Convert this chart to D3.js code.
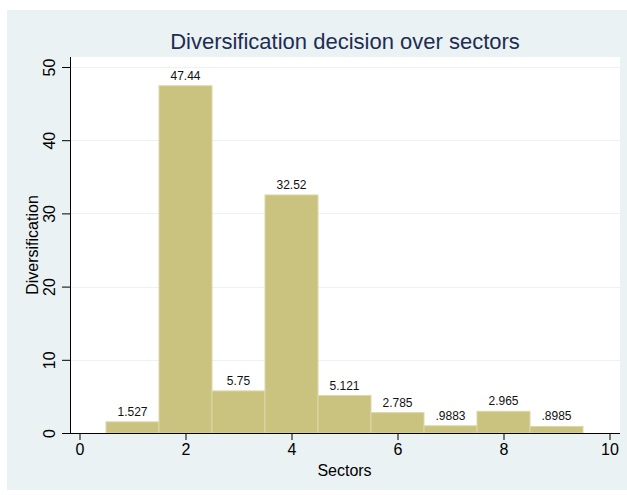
<!DOCTYPE html>
<html><head><meta charset="utf-8">
<script src="https://cdn.jsdelivr.net/npm/d3@7"></script>
<style>body{margin:0;background:#fff;} text{font-family:"Liberation Sans",Arial,sans-serif;}</style>
</head><body>
<svg id="c" width="627" height="495"></svg>
<script>
const sectors = [1,2,3,4,5,6,7,8,9];
const values = [1.527,47.44,5.75,32.52,5.121,2.785,0.9883,2.965,0.8985];
const valueLabels = ["1.527","47.44","5.75","32.52","5.121","2.785",".9883","2.965",".8985"];
const xTicks = [0,2,4,6,8,10];
const yTicks = [0,10,20,30,40,50];

const svg = d3.select("#c");
svg.append("rect").attr("x",7).attr("y",10).attr("width",620).attr("height",480).attr("fill","#eaf2f3");
const L=70,R=620,T=57,B=433;
svg.append("rect").attr("x",L).attr("y",T).attr("width",R-L).attr("height",B-T).attr("fill","#fff");

const x = d3.scaleLinear().domain([0,10]).range([79.5,609.5]);
const y = d3.scaleLinear().domain([0,50]).range([B,67]);

// grid
svg.append("g").selectAll("line").data(yTicks.filter(d=>d>0)).join("line")
  .attr("x1",L).attr("x2",R).attr("y1",d=>Math.round(y(d))+0.5).attr("y2",d=>Math.round(y(d))+0.5)
  .attr("stroke","#eaf2f3").attr("stroke-width",1);

// bars
svg.append("g").selectAll("rect").data(sectors).join("rect")
  .attr("x",(d)=>x(d-0.5)).attr("width",(d)=>x(d+0.5)-x(d-0.5))
  .attr("y",(d,i)=>y(values[i])).attr("height",(d,i)=>B-y(values[i]))
  .attr("fill","#cac27f").attr("stroke","#ddd8a8").attr("stroke-width",1);

svg.append("g").selectAll("text").data(sectors).join("text")
  .attr("x",d=>x(d)).attr("y",(d,i)=>y(values[i])-6)
  .attr("text-anchor","middle").attr("font-size",12).attr("fill","#111")
  .text((d,i)=>valueLabels[i]);

// axes
const xa = svg.append("g").attr("transform",`translate(0,${B})`)
  .call(d3.axisBottom(x).tickValues(xTicks).tickSize(7).tickPadding(4).tickFormat(d3.format("d")));
xa.select(".domain").remove();
xa.append("line").attr("x1",L).attr("x2",R).attr("y1",0.5).attr("y2",0.5).attr("stroke","#000");
xa.selectAll("text").attr("font-size",16).attr("fill","#000").attr("font-family","Liberation Sans, Arial, sans-serif");

const ya = svg.append("g").attr("transform",`translate(${L},0)`)
  .call(d3.axisLeft(y).tickValues(yTicks).tickSize(8).tickPadding(4).tickFormat(d3.format("d")));
ya.select(".domain").remove();
ya.append("line").attr("x1",0.5).attr("x2",0.5).attr("y1",T).attr("y2",B).attr("stroke","#000");
ya.selectAll(".tick text").attr("font-size",16).attr("fill","#000")
  .attr("font-family","Liberation Sans, Arial, sans-serif")
  .attr("text-anchor","middle").attr("x",-16).attr("dy",0)
  .attr("transform","rotate(-90)")
  .each(function(){ const t=d3.select(this); t.attr("x",0).attr("y",-18); });
ya.selectAll(".tick text").attr("transform","rotate(-90)").attr("x",0).attr("y",-15);

svg.append("text").attr("x",x(5)).attr("y",476).attr("text-anchor","middle")
  .attr("font-size",16).attr("fill","#000").text("Sectors");
svg.append("text").attr("transform",`translate(38,${(T+B)/2}) rotate(-90)`).attr("text-anchor","middle")
  .attr("font-size",16).attr("fill","#000").text("Diversification");
svg.append("text").attr("x",345).attr("y",49).attr("text-anchor","middle")
  .attr("font-size",22).attr("fill","#1e2d53").text("Diversification decision over sectors");
</script>
</body></html>
